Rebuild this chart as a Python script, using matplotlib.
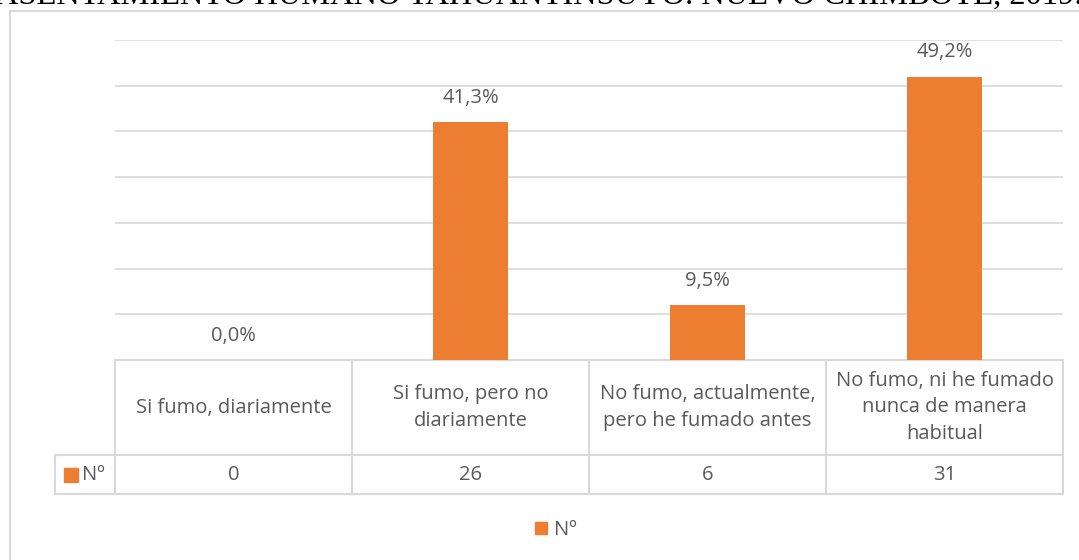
import matplotlib.pyplot as plt
from matplotlib.patches import Rectangle
from matplotlib.lines import Line2D

categories = ["Si fumo, diariamente", "Si fumo, pero no\ndiariamente",
              "No fumo, actualmente,\npero he fumado antes",
              "No fumo, ni he fumado\nnunca de manera\nhabitual"]
counts = [0, 26, 6, 31]
percent_labels = ["0,0%", "41,3%", "9,5%", "49,2%"]
series_name = "Nº"
title = "ASENTAMIENTO HUMANO TAHUANTINSUYO. NUEVO CHIMBOTE, 2019."

orange = "#ED7D31"
grid_c = "#D9D9D9"
text_c = "#595959"
fs = 14.5
plt.rcParams["font.family"] = ["Open Sans", "DejaVu Sans"]

W, H = 1079, 560
fig = plt.figure(figsize=(W / 100, H / 100), dpi=100)

# outer chart frame
fig.patches.append(Rectangle((10 / W, -0.1), 1.2, 1 - 11 / H + 0.1, transform=fig.transFigure,
                             fill=False, edgecolor=grid_c, linewidth=1.5))
# title, cut off at the top like the source
fig.text(-5 / W, 1 - 4 / H, title, family="Liberation Serif", fontsize=23.4,
         va="baseline", ha="left", color="black")

ax = fig.add_axes([115 / W, 1 - 360 / H, 948 / W, 320 / H])
x = list(range(len(categories)))
ax.bar(x, counts, width=0.32, color=orange, zorder=3)
ax.set_xlim(-0.5, len(categories) - 0.5)
ax.set_ylim(0, 35)
ax.set_yticks(range(0, 36, 5))
ax.yaxis.grid(True, color=grid_c, linewidth=1.2)
ax.set_axisbelow(True)
ax.tick_params(left=False, bottom=False, labelleft=False, labelbottom=False)
for s in ax.spines.values():
    s.set_visible(False)

for xi, c, lab in zip(x, counts, percent_labels):
    ax.annotate(lab, (xi, c), xytext=(0, 14), textcoords="offset points",
                ha="center", va="baseline", fontsize=fs, color=text_c)

# data table below the axis
tr = ax.get_xaxis_transform()
row1 = -95 / 320
row2 = -134 / 320
left_hdr = -0.5 - 60 / 237
lw = 1.5
ax.add_line(Line2D([-0.5, 3.5], [0, 0], transform=tr, color=grid_c, lw=lw, clip_on=False))
for y in (row1, row2):
    ax.add_line(Line2D([left_hdr, 3.5], [y, y], transform=tr, color=grid_c, lw=lw, clip_on=False))
for xb in [i - 0.5 for i in range(len(categories) + 1)]:
    ax.add_line(Line2D([xb, xb], [0, row2], transform=tr, color=grid_c, lw=lw, clip_on=False))
ax.add_line(Line2D([left_hdr, left_hdr], [row1, row2], transform=tr, color=grid_c, lw=lw, clip_on=False))

for xi, cat, c in zip(x, categories, counts):
    ax.text(xi, row1 / 2, cat, transform=tr, ha="center", va="center",
            fontsize=fs, color=text_c, linespacing=1.45)
    ax.text(xi, (row1 + row2) / 2, str(c), transform=tr, ha="center", va="center",
            fontsize=fs, color=text_c)

# series key inside the table
ax.add_patch(Rectangle((left_hdr + 9 / 237, (row1 + row2) / 2 - 7 / 320), 14 / 237, 14 / 320,
                       transform=tr, color=orange, clip_on=False))
ax.text(left_hdr + 27 / 237, (row1 + row2) / 2, series_name, transform=tr,
        ha="left", va="center", fontsize=fs, color=text_c)

# legend at bottom
leg = fig.legend([Rectangle((0, 0), 1, 1, color=orange)], [series_name],
                 loc="center", bbox_to_anchor=(556 / W, 1 - 530 / H), frameon=False,
                 fontsize=fs, handlelength=0.6, handleheight=0.6, handletextpad=0.35)
for t in leg.get_texts():
    t.set_color(text_c)

fig.savefig("out.png", dpi=100)
